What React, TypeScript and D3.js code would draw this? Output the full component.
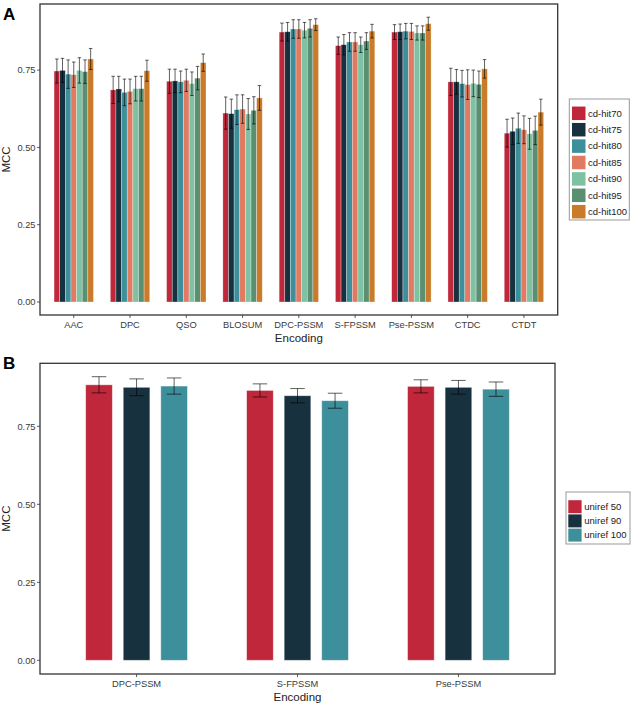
import React from "react";
import * as d3 from "d3";

const catsA = ["AAC", "DPC", "QSO", "BLOSUM", "DPC-PSSM", "S-FPSSM", "Pse-PSSM", "CTDC", "CTDT"];
const seriesA = ["cd-hit70", "cd-hit75", "cd-hit80", "cd-hit85", "cd-hit90", "cd-hit95", "cd-hit100"];
const colorsA = ["#C0273A", "#17313F", "#3D8F9B", "#E07B62", "#7FC2A3", "#5A8F72", "#CA7B29"];
// rows = categories, columns = series
const meanA = [
  [0.747, 0.749, 0.737, 0.735, 0.749, 0.745, 0.786],
  [0.686, 0.689, 0.678, 0.681, 0.690, 0.690, 0.748],
  [0.714, 0.715, 0.712, 0.717, 0.706, 0.724, 0.774],
  [0.611, 0.609, 0.622, 0.624, 0.608, 0.620, 0.660],
  [0.873, 0.874, 0.883, 0.883, 0.879, 0.885, 0.897],
  [0.829, 0.832, 0.841, 0.841, 0.832, 0.844, 0.876],
  [0.873, 0.874, 0.876, 0.875, 0.870, 0.870, 0.900],
  [0.712, 0.712, 0.706, 0.703, 0.707, 0.704, 0.754],
  [0.546, 0.552, 0.562, 0.557, 0.544, 0.555, 0.614],
];
const errA = [
  [0.039, 0.039, 0.046, 0.041, 0.041, 0.038, 0.034],
  [0.044, 0.041, 0.043, 0.040, 0.040, 0.040, 0.034],
  [0.039, 0.038, 0.035, 0.036, 0.038, 0.038, 0.028],
  [0.052, 0.047, 0.048, 0.046, 0.050, 0.044, 0.040],
  [0.029, 0.030, 0.030, 0.030, 0.025, 0.028, 0.019],
  [0.028, 0.033, 0.030, 0.030, 0.025, 0.027, 0.022],
  [0.024, 0.025, 0.025, 0.026, 0.023, 0.023, 0.021],
  [0.044, 0.040, 0.043, 0.048, 0.043, 0.043, 0.030],
  [0.045, 0.043, 0.049, 0.045, 0.050, 0.046, 0.042],
];

const catsB = ["DPC-PSSM", "S-FPSSM", "Pse-PSSM"];
const seriesB = ["uniref 50", "uniref 90", "uniref 100"];
const colorsB = ["#C0273A", "#17313F", "#3D8F9B"];
const meanB = [
  [0.883, 0.875, 0.879],
  [0.865, 0.848, 0.832],
  [0.878, 0.875, 0.869],
];
const errB = [
  [0.026, 0.027, 0.026],
  [0.021, 0.023, 0.024],
  [0.021, 0.022, 0.023],
];

const yTicks = [0, 0.25, 0.5, 0.75];
const FONT = "'Liberation Sans', Arial, Helvetica, sans-serif";

type PanelProps = {
  label: string;
  cats: string[];
  series: string[];
  colors: string[];
  mean: number[][];
  err: number[][];
  box: { x0: number; x1: number; y0: number; y1: number };
  zeroY: number;
  pxPerUnit: number;
  barFrac: number;
  capW: number;
  legend: { x0: number; x1: number; y0: number; y1: number; rowY: number; rowStep: number; keyX: number; keyW: number; keyH: number; textX: number };
  labelY: number;
  barStroke: number;
};

function Panel(p: PanelProps) {
  const x = d3.scaleBand<string>().domain(p.cats).range([p.box.x0, p.box.x1]).paddingInner(0).paddingOuter(0.1);
  const step = x.step();
  const inner = d3.scaleBand<string>().domain(p.series).range([-0.35 * step, 0.35 * step]);
  const y = d3.scaleLinear().domain([0, 1]).range([p.zeroY, p.zeroY - p.pxPerUnit]);
  const slot = inner.bandwidth();
  const bw = slot * p.barFrac;
  const midY = (p.box.y0 + p.box.y1) / 2;
  const midX = (p.box.x0 + p.box.x1) / 2;
  return (
    <g fontFamily={FONT}>
      <text x={3} y={p.labelY} fontSize={17} fontWeight="bold" fill="#000">{p.label}</text>
      {p.cats.map((c, i) => {
        const cx = (x(c) as number) + step / 2;
        return (
          <g key={c}>
            {p.series.map((s, j) => {
              const bx = cx + (inner(s) as number) + (slot - bw) / 2;
              const v = p.mean[i][j];
              return (
                <rect key={s} x={bx} y={y(v)} width={bw} height={y(0) - y(v)} fill={p.colors[j]}
                  stroke="#fff" strokeOpacity={0.5} strokeWidth={p.barStroke} />
              );
            })}
          </g>
        );
      })}
      {p.cats.map((c, i) => {
        const cx = (x(c) as number) + step / 2;
        return (
          <g key={c + "e"} stroke="#000" strokeOpacity={0.62} strokeWidth={1}>
            {p.series.map((s, j) => {
              const bc = cx + (inner(s) as number) + slot / 2;
              const v = p.mean[i][j];
              const e = p.err[i][j];
              return (
                <g key={s}>
                  <line x1={bc} x2={bc} y1={y(v - e)} y2={y(v + e)} />
                  <line x1={bc - p.capW / 2} x2={bc + p.capW / 2} y1={y(v - e)} y2={y(v - e)} />
                  <line x1={bc - p.capW / 2} x2={bc + p.capW / 2} y1={y(v + e)} y2={y(v + e)} />
                </g>
              );
            })}
          </g>
        );
      })}
      <rect x={p.box.x0} y={p.box.y0} width={p.box.x1 - p.box.x0} height={p.box.y1 - p.box.y0} fill="none" stroke="#333" strokeWidth={1.3} />
      {yTicks.map((t) => (
        <g key={t}>
          <line x1={p.box.x0 - 3} x2={p.box.x0} y1={y(t)} y2={y(t)} stroke="#333" strokeWidth={0.8} />
          <text x={p.box.x0 - 4.5} y={y(t)} dy="0.35em" textAnchor="end" fontSize={9.3} fill="#3a3a3a">{d3.format(".2f")(t)}</text>
        </g>
      ))}
      {p.cats.map((c) => {
        const cx = (x(c) as number) + step / 2;
        return (
          <g key={c + "t"}>
            <line x1={cx} x2={cx} y1={p.box.y1} y2={p.box.y1 + 3} stroke="#333" strokeWidth={0.8} />
            <text x={cx} y={p.box.y1 + 12.5} textAnchor="middle" fontSize={9.3} fill="#3a3a3a">{c}</text>
          </g>
        );
      })}
      <text x={midX} y={p.box.y1 + 26.5} textAnchor="middle" fontSize={11.5} fill="#222">Encoding</text>
      <text transform={`translate(10,${midY}) rotate(-90)`} textAnchor="middle" fontSize={11.5} fill="#222">MCC</text>
      <rect x={p.legend.x0} y={p.legend.y0} width={p.legend.x1 - p.legend.x0} height={p.legend.y1 - p.legend.y0} fill="#fff" stroke="#999" strokeWidth={1} />
      {p.series.map((s, j) => {
        const cy = p.legend.rowY + j * p.legend.rowStep;
        return (
          <g key={s + "l"}>
            <rect x={p.legend.keyX} y={cy - p.legend.keyH / 2} width={p.legend.keyW} height={p.legend.keyH} fill={p.colors[j]} />
            <text x={p.legend.textX} y={cy} dy="0.35em" fontSize={9.5} fill="#222">{s}</text>
          </g>
        );
      })}
    </g>
  );
}

export default function App() {
  return (
    <svg width={633} height={706} style={{ position: "absolute", left: 0, top: 0, background: "#fff" }}>
      <rect x={0} y={0} width={633} height={706} fill="#fff" />
      <Panel
        label="A"
        cats={catsA}
        series={seriesA}
        colors={colorsA}
        mean={meanA}
        err={errA}
        box={{ x0: 40, x1: 557.7, y0: 4, y1: 315 }}
        zeroY={302}
        pxPerUnit={309.2}
        barFrac={1}
        capW={3.5}
        legend={{ x0: 569.3, x1: 629.3, y0: 99, y1: 220, rowY: 113.3, rowStep: 16.4, keyX: 572, keyW: 13.5, keyH: 13.5, textX: 588 }}
        labelY={19.5}
        barStroke={0.6}
      />
      <Panel
        label="B"
        cats={catsB}
        series={seriesB}
        colors={colorsB}
        mean={meanB}
        err={errB}
        box={{ x0: 40, x1: 555, y0: 363.3, y1: 674 }}
        zeroY={660.3}
        pxPerUnit={312}
        barFrac={0.71}
        capW={14.5}
        legend={{ x0: 566, x1: 630, y0: 492, y1: 544, rowY: 506.7, rowStep: 14.2, keyX: 568.3, keyW: 13.3, keyH: 13, textX: 584.3 }}
        labelY={369}
        barStroke={0.8}
      />
    </svg>
  );
}
